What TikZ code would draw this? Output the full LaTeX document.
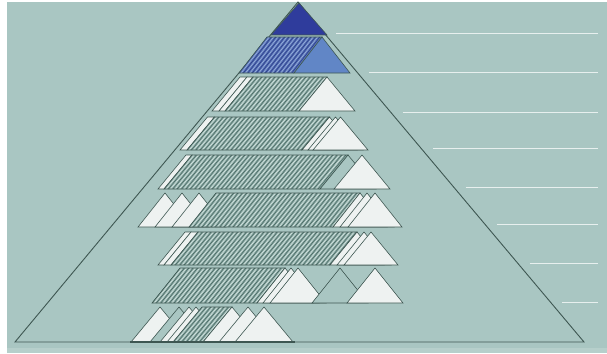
\documentclass[tikz,border=0pt]{standalone}
\usetikzlibrary{calc}
\definecolor{bg}{HTML}{A9C6C2}
\definecolor{edgec}{HTML}{3E5752}
\definecolor{tealbg}{HTML}{8FB0AA}
\definecolor{tealline}{HTML}{4A6762}
\definecolor{teallight}{HTML}{DCE8E5}
\definecolor{bluebg}{HTML}{5573B8}
\definecolor{blueline}{HTML}{2E3C88}
\definecolor{bluelight}{HTML}{A3B5DE}
\definecolor{darkblue}{HTML}{2F3C9C}
\definecolor{lightblue}{HTML}{6186C6}
\definecolor{wtri}{HTML}{EEF2F1}
\tikzset{
  edge/.style={draw=edgec, line width=0.6pt, line join=miter},
  bigedge/.style={draw=edgec, line width=0.9pt},
  rline/.style={draw=white!72!bg, line width=0.9pt}
}
% triangle: a, w, yb, yt, fill
\newcommand{\mytri}[5]{%
  \filldraw[edge, fill=#5] (#1,#3) -- ({#1+#2},#3) -- ({#1+#2/2},#4) -- cycle;}
% plain parallelogram strip: a, b, yb, yt, s, fill
\newcommand{\mystrip}[6]{%
  \filldraw[edge, fill=#6] (#1,#3) -- (#2,#3) -- ({#2+#5},#4) -- ({#1+#5},#4) -- cycle;}
% hatched parallelogram: a, b, yb, yt, s, colour prefix
\newcommand{\mypar}[6]{%
  \begin{scope}
    \clip (#1,#3) -- (#2,#3) -- ({#2+#5},#4) -- ({#1+#5},#4) -- cycle;
    \fill[#6bg] ({#1-5},{#3+2}) rectangle ({#2+#5+5},{#4-2});
    \pgfmathsetmacro\xs{#1+4.4}
    \foreach \x in {#1,\xs,...,#2} {
      \draw[#6line, line width=0.6pt] (\x,#3) -- ++(#5,{#4-#3});
      \draw[#6light, line width=0.55pt] ({\x+2.2},#3) -- ++(#5,{#4-#3});
    }
  \end{scope}
  \draw[edge] (#1,#3) -- (#2,#3) -- ({#2+#5},#4) -- ({#1+#5},#4) -- cycle;}
\begin{document}
\begin{tikzpicture}[x=1pt,y=-1pt]
\useasboundingbox (0,0) rectangle (607,353);
\fill[white] (0,0) rectangle (607,353);
\fill[bg] (7,2) rectangle (607,353);
\fill[bg!85!white] (7,348) rectangle (607,353);
% right-hand white rules at the band base levels
\foreach \y in {33,72,112,148,187,224,263,302} {
  \pgfmathsetmacro\xa{298+(\y-2)/340*286+12}
  \draw[rline] (\xa,\y) -- (598,\y);
}
% big triangle
\coordinate (A) at (298,2);
\coordinate (L) at (15,342);
\coordinate (R) at (584,342);
\draw[bigedge] (L) -- (A) -- (R) -- cycle;
% band 0
\mytri{271}{56}{35}{3}{darkblue}
% band 1
\mypar{239}{294}{73}{37}{28}{blue}
\mytri{294}{56}{73}{37}{lightblue}
% band 2
\mystrip{212}{219}{111}{77}{28}{wtri}
\mystrip{219}{225}{111}{77}{28}{wtri}
\mypar{225}{299}{111}{77}{28}{teal}
\mytri{299}{56}{111}{77}{wtri}
% band 3
\mystrip{180}{187}{150}{117}{27.5}{wtri}
\mypar{187}{302}{150}{117}{27.5}{teal}
\mytri{302}{55}{150}{117}{wtri}
\mytri{308}{55}{150}{117}{wtri}
\mytri{313}{55}{150}{117}{wtri}
% band 4
\mystrip{158}{164}{189}{155}{28}{wtri}
\mypar{164}{320}{189}{155}{28}{teal}
\mytri{320}{56}{189}{155}{bg}
\mytri{334}{56}{189}{155}{wtri}
% band 5
\mytri{138}{54}{227}{193}{wtri}
\mytri{155}{54}{227}{193}{wtri}
\mytri{172}{54}{227}{193}{wtri}
\mypar{189}{333}{227}{193}{27}{teal}
\mytri{333}{54}{227}{193}{wtri}
\mytri{340}{54}{227}{193}{wtri}
\mytri{348}{54}{227}{193}{wtri}
% band 6
\mystrip{158}{164}{265}{232}{27}{wtri}
\mystrip{164}{171}{265}{232}{27}{wtri}
\mypar{171}{330}{265}{232}{27}{teal}
\mytri{330}{54}{265}{232}{wtri}
\mytri{337}{54}{265}{232}{wtri}
\mytri{344}{54}{265}{232}{wtri}
% band 7
\mypar{152}{257}{303}{268}{28}{teal}
\mytri{257}{56}{303}{268}{wtri}
\mytri{263}{56}{303}{268}{wtri}
\mytri{270}{56}{303}{268}{wtri}
\mytri{312}{56}{303}{268}{bg}
\mytri{347}{56}{303}{268}{wtri}
% band 8
\mytri{131}{58}{342}{307}{wtri}
\mytri{150}{58}{342}{307}{bg}
\mytri{160}{58}{342}{307}{wtri}
\mytri{167}{58}{342}{307}{wtri}
\mypar{173}{203}{342}{307}{29}{teal}
\mytri{203}{58}{342}{307}{wtri}
\mytri{219}{58}{342}{307}{wtri}
\mytri{235}{58}{342}{307}{wtri}
\draw[edgec, line width=1.1pt] (130,342) -- (295,342);
\end{tikzpicture}
\end{document}
